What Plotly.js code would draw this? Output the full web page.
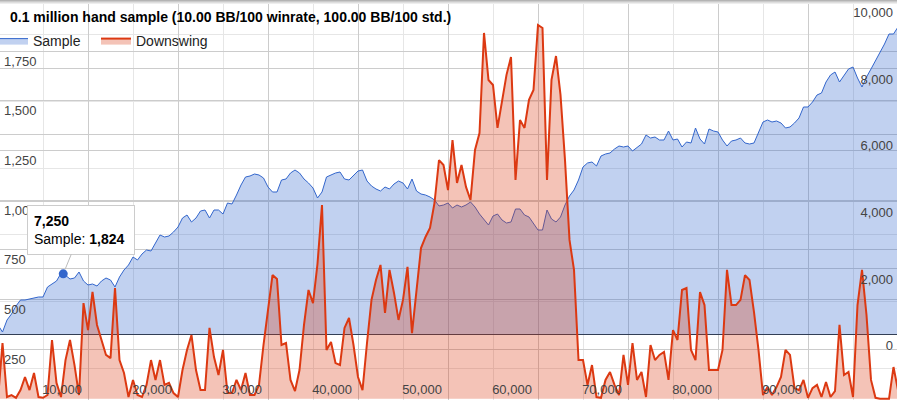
<!DOCTYPE html>
<html>
<head>
<meta charset="utf-8">
<script src="https://cdn.plot.ly/plotly-3.0.1.min.js"></script>
<style>
html,body{margin:0;padding:0;background:#fff;}
#chart{width:897px;height:400px;}
</style>
</head>
<body>
<div id="chart"></div>
<script>
// ---- data ----
const HAND_STEP = 500; // one point every 500 hands, 0 .. 100,000

// Sample bankroll curve, BB (right axis)
const sampleBB = [
  290, 80, 440, 620, 860, 1040, 1040, 1070, 1100, 1130,
  1130, 1430, 1520, 1610, 1840, 1780, 1670, 1700, 1880, 1610,
  1490, 1520, 1460, 1610, 1700, 1640, 1430, 1730, 1940, 2090,
  2330, 2240, 2420, 2540, 2510, 2750, 2990, 2930, 2960, 3080,
  3230, 3500, 3590, 3380, 3500, 3710, 3740, 3500, 3740, 3740,
  3620, 3950, 3920, 4190, 4490, 4730, 4760, 4820, 4790, 4700,
  4430, 4280, 4280, 4640, 4670, 4850, 4940, 4850, 4670, 4550,
  4400, 4100, 4280, 4730, 4790, 4850, 4880, 4670, 4640, 4790,
  4910, 4940, 4610, 4460, 4370, 4310, 4430, 4370, 4520, 4610,
  4550, 4370, 4670, 4310, 4220, 4190, 4130, 4040, 3860, 3890,
  3950, 3800, 3890, 3830, 3890, 3980, 3830, 3620, 3440, 3290,
  3560, 3620, 3440, 3350, 3380, 3770, 3770, 3590, 3530, 3320,
  3140, 3140, 3740, 3470, 3380, 3530, 3890, 4160, 4340, 4640,
  5030, 5150, 5180, 5060, 5360, 5420, 5450, 5570, 5660, 5630,
  5660, 5510, 5630, 5720, 5990, 5900, 5930, 5840, 5840, 6110,
  5840, 5870, 5630, 5780, 5750, 6200, 5870, 5720, 6170, 6110,
  6080, 5840, 5660, 5810, 5840, 5900, 5750, 5720, 5750, 6050,
  6380, 6440, 6380, 6410, 6350, 6200, 6230, 6350, 6500, 6830,
  6830, 6980, 7190, 7250, 7580, 7790, 7880, 7580, 7790, 7970,
  8030, 7700, 7430, 7730, 7970, 8210, 8450, 8720, 9020, 9020,
  9230
];

// Downswing depth, BB (left axis)
const downswingBB = [
  0, 281, 9, 19, 5, 44, 110, 44, 130, 9,
  5, 19, 296, 80, 9, 195, 296, 170, 19, 482,
  346, 538, 372, 296, 221, 205, 558, 195, 130, 9,
  95, 19, 9, 70, 195, 95, 195, 70, 80, 29,
  9, 145, 246, 321, 145, 44, 44, 357, 210, 120,
  246, 29, 29, 95, 44, 130, 19, 19, 70, 271,
  462, 623, 603, 271, 281, 95, 39, 145, 372, 548,
  482, 680, 976, 246, 286, 180, 170, 357, 407, 271,
  110, 44, 281, 498, 598, 674, 432, 649, 533, 397,
  498, 664, 331, 548, 759, 815, 860, 986, 1202, 1177,
  1051, 1303, 1087, 1177, 1067, 1001, 1253, 1338, 1842, 1605,
  1580, 1364, 1505, 1631, 1721, 1102, 1404, 1364, 1505, 1555,
  1882, 1867, 1102, 1606, 1726, 1530, 1202, 800, 649, 195,
  195, 70, 170, 9, 5, 95, 135, 70, 19, 221,
  70, 281, 95, 135, 9, 271, 195, 221, 236, 95,
  346, 296, 548, 558, 246, 195, 538, 472, 145, 145,
  145, 246, 649, 472, 472, 498, 623, 598, 437, 246,
  19, 59, 19, 59, 110, 246, 221, 54, 44, 95,
  5, 54, 70, 9, 85, 9, 39, 372, 120, 135,
  9, 472, 649, 422, 95, 5, 0, 0, 0, 160,
  44
];

const hands = sampleBB.map((_, i) => i * HAND_STEP);

// tick labels
const xTickVals = [10000, 20000, 30000, 40000, 50000, 60000, 70000, 80000, 90000];
const leftTickVals = [250, 500, 750, 1000, 1250, 1500, 1750];
const rightTickVals = [0, 2000, 4000, 6000, 8000, 10000];

// highlighted point (tooltip)
const tipHands = [7250];
const tipSample = [1824];

const seriesNames = ['Sample', 'Downswing'];
const titleText = '0.1 million hand sample (10.00 BB/100 winrate, 100.00 BB/100 std.)';

// ---- chart ----
const FONT = 'Arial, "Liberation Sans", sans-serif';

const traces = [
  {
    x: hands, y: sampleBB, name: seriesNames[0], type: 'scatter', mode: 'lines',
    yaxis: 'y', fill: 'tozeroy', fillcolor: 'rgba(51,102,204,0.3)',
    line: {color: '#3366cc', width: 1}, hoverinfo: 'skip', legend: 'legend'
  },
  {
    x: hands, y: downswingBB, name: seriesNames[1], type: 'scatter', mode: 'lines',
    yaxis: 'y2', fill: 'tozeroy', fillcolor: 'rgba(220,57,18,0.3)',
    line: {color: '#dc3912', width: 2}, hoverinfo: 'skip', legend: 'legend2'
  },
  {
    x: tipHands, y: tipSample, type: 'scatter', mode: 'markers', yaxis: 'y',
    marker: {color: '#3366cc', size: 9}, showlegend: false, hoverinfo: 'skip'
  }
];

const gridMajor = '#cccccc';
const gridMinor = '#e6e6e6';
const legendFont = {family: FONT, size: 14, color: '#222'};

const layout = {
  width: 897, height: 400,
  margin: {l: 0, r: 0, t: 0, b: 0, pad: 0, autoexpand: false},
  paper_bgcolor: '#ffffff', plot_bgcolor: '#ffffff',
  font: {family: FONT, size: 13, color: '#444'},
  showlegend: true,
  title: {
    text: titleText, x: 10 / 897, xanchor: 'left', xref: 'paper',
    y: 1 - 17 / 400, yanchor: 'middle', yref: 'paper',
    font: {family: FONT, size: 14, color: '#000', weight: 'bold'}
  },
  legend: {
    orientation: 'h', x: -7 / 897, xanchor: 'left', y: 1 - 41 / 400, yanchor: 'middle',
    bgcolor: 'rgba(0,0,0,0)', borderwidth: 0, font: legendFont
  },
  legend2: {
    orientation: 'h', x: 96 / 897, xanchor: 'left', y: 1 - 41 / 400, yanchor: 'middle',
    bgcolor: 'rgba(0,0,0,0)', borderwidth: 0, font: legendFont
  },
  xaxis: {
    range: [222, 99889], tickmode: 'array', tickvals: xTickVals,
    tickformat: ',d', showgrid: true, gridcolor: gridMajor, gridwidth: 1,
    zeroline: false, showline: false, ticks: '',
    ticklabelposition: 'inside', ticklabelshift: -26, ticklabelstandoff: 0,
    tickfont: {family: FONT, size: 13, color: '#444'},
    minor: {tickmode: 'linear', tick0: 0, dtick: 5000, showgrid: true, gridcolor: gridMinor, gridwidth: 1, ticks: ''},
    fixedrange: true
  },
  yaxis: {
    range: [-1960, 10040], side: 'right', tickmode: 'array', tickvals: rightTickVals,
    tickformat: ',d', showgrid: true, gridcolor: gridMajor, gridwidth: 1,
    zeroline: true, zerolinecolor: '#333333', zerolinewidth: 1.5,
    showline: false, ticks: '',
    ticklabelposition: 'inside', ticklabelshift: 11, ticklabelstandoff: 1,
    tickfont: {family: FONT, size: 13, color: '#444'},
    minor: {tickmode: 'linear', tick0: 0, dtick: 1000, showgrid: true, gridcolor: gridMinor, gridwidth: 1, ticks: ''},
    fixedrange: true
  },
  yaxis2: {
    range: [-6, 2008], side: 'left', overlaying: 'y', tickmode: 'array', tickvals: leftTickVals,
    tickformat: ',d', showgrid: true, gridcolor: gridMajor, gridwidth: 1,
    zeroline: false, showline: false, ticks: '',
    ticklabelposition: 'inside', ticklabelshift: 10, ticklabelstandoff: 1,
    tickfont: {family: FONT, size: 13, color: '#444'},
    fixedrange: true
  },
  annotations: [
    {
      x: tipHands[0], y: tipSample[0], xref: 'x', yref: 'y',
      text: '<b>' + tipHands[0].toLocaleString('en-US') + '</b><br>' + seriesNames[0] + ': <b>' + tipSample[0].toLocaleString('en-US') + '</b>',
      showarrow: true, arrowhead: 0, arrowwidth: 1, arrowcolor: '#bbbbbb', standoff: 5,
      ax: 18, ay: -44, align: 'left', width: 94, height: 36,
      bgcolor: '#ffffff', bordercolor: '#cccccc', borderwidth: 1, borderpad: 6,
      font: {family: FONT, size: 14, color: '#000'}
    }
  ],
  shapes: [
    {type: 'rect', xref: 'paper', yref: 'paper', x0: 0, x1: 1, y0: 1 - 1 / 400, y1: 1, line: {width: 0}, fillcolor: '#b4b4b4', layer: 'above'},
    {type: 'rect', xref: 'paper', yref: 'paper', x0: 0, x1: 1, y0: 1 - 2 / 400, y1: 1 - 1 / 400, line: {width: 0}, fillcolor: '#cbcbcb', layer: 'above'},
    {type: 'rect', xref: 'paper', yref: 'paper', x0: 0, x1: 1, y0: 1 - 3 / 400, y1: 1 - 2 / 400, line: {width: 0}, fillcolor: '#dedede', layer: 'above'},
    {type: 'rect', xref: 'paper', yref: 'paper', x0: 0, x1: 1, y0: 1 - 4 / 400, y1: 1 - 3 / 400, line: {width: 0}, fillcolor: '#eeeeee', layer: 'above'}
  ]
};

Plotly.newPlot('chart', traces, layout, {displayModeBar: false, staticPlot: true});
</script>
</body>
</html>
